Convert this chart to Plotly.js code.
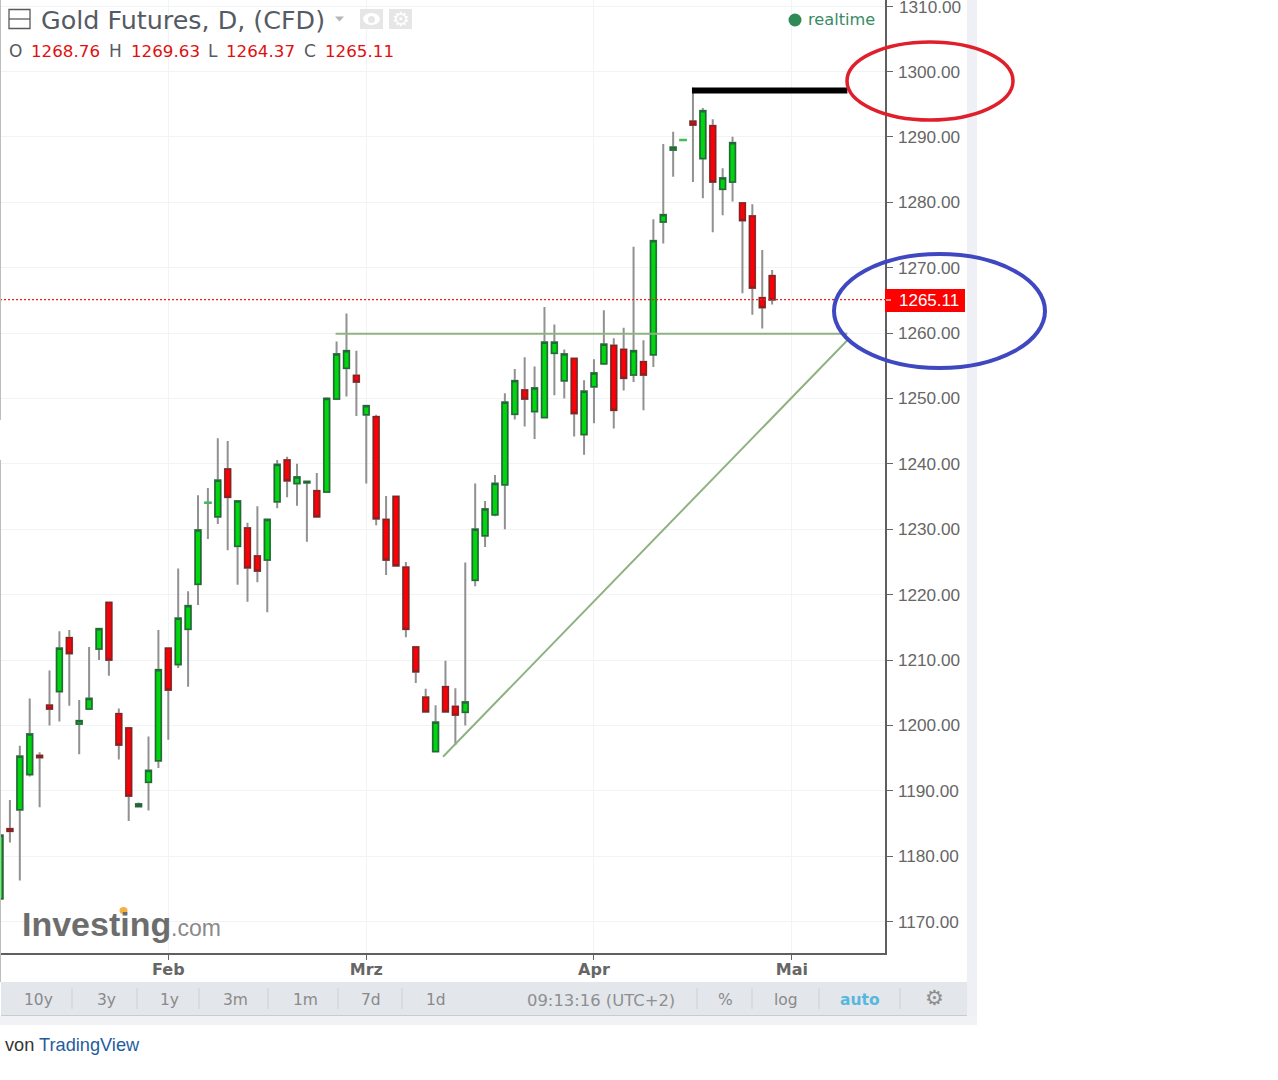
<!DOCTYPE html>
<html>
<head>
<meta charset="utf-8">
<title>Gold Futures</title>
<script src="https://cdn.plot.ly/plotly-3.0.1.min.js"></script>
<style>
  body { margin: 0; background: #fff; }
</style>
</head>
<body>
<div id="graph"></div>
<script>
// values, one entry per trading day
var opens = [1173.5,1184.2,1187.1,1192.5,1195.4,1203.1,1205.2,1213.4,1200.2,1202.5,
  1211.7,1218.8,1201.8,1199.6,1187.6,1191.3,1194.6,1211.8,1209.3,1214.7,
  1221.6,1234,1231.9,1239.2,1227.4,1230.2,1225.9,1225.3,1234.2,1240.6,
  1237,1237.1,1235.9,1235.7,1249.9,1254.6,1253.5,1247.5,1247.2,1231.5,
  1235,1224.2,1212,1204.3,1196,1205.9,1202.9,1202,1222.2,1229,
  1232.2,1236.8,1247.6,1251.3,1248,1247.1,1256.9,1252.7,1256.1,1244.5,
  1251.8,1255.3,1258.1,1257.5,1253.6,1255.6,1256.7,1277,1288,1289.5,
  1292.4,1286.7,1291.7,1282,1283.1,1279.9,1277.9,1265.4,1268.76];
var highs = [1183.2,1188.6,1196.9,1204.1,1195.9,1208.4,1214.4,1214.6,1203.9,1212,
  1214.8,1218.8,1202.6,1199.6,1188.2,1198.3,1214.6,1211.8,1224,1220.5,
  1235.2,1236.3,1243.9,1243.5,1234.3,1231,1233.5,1231.5,1240.6,1241.1,
  1240,1237.3,1238.6,1250.2,1258.7,1263,1257.3,1248.9,1247.5,1235.1,
  1235,1225,1212,1205.6,1203.1,1209.9,1205.7,1224.9,1237,1234.3,
  1238.3,1250.8,1254.5,1256.3,1254.9,1264,1261.3,1257.5,1256.2,1252.8,
  1256,1263.5,1259.2,1260.8,1273.2,1258.9,1277.4,1288.9,1290.8,1289.5,
  1297.5,1294.4,1292.7,1285.2,1290,1279.9,1279.7,1272.7,1269.63];
var lows = [1173,1182.1,1176.3,1192.2,1187.5,1200,1200.6,1203,1195.6,1202.5,
  1210,1207.6,1194.8,1185.4,1187.6,1187,1193.5,1197.8,1208.8,1205.9,
  1218.4,1228.5,1230.8,1226.8,1221.5,1218.9,1221.9,1217.3,1233.2,1234.9,
  1233.6,1228.1,1231.9,1235.7,1249.9,1250.3,1247.3,1237,1230.6,1223,
  1224.4,1213.5,1206.5,1202.1,1196,1202.1,1197,1200,1221.3,1227.3,
  1232,1230,1246.8,1245.7,1243.8,1247.1,1250.5,1250,1244.2,1241.4,
  1246.2,1255.3,1245.4,1251.2,1252.5,1248.2,1254.8,1273.7,1283.9,1289.5,
  1283.1,1280.6,1275.4,1278,1280.1,1266.1,1262.8,1260.7,1264.37];
var closes = [1183.2,1183.8,1195.3,1198.7,1195.1,1202.5,1211.8,1211,1200.7,1204.1,
  1214.8,1210,1197,1189.2,1188,1193.1,1208.5,1205.4,1216.4,1218.3,
  1229.9,1234.1,1237.5,1234.9,1234.3,1224.1,1223.6,1231.5,1239.9,1237.4,
  1238,1237.3,1231.9,1250,1256.8,1257.3,1252.5,1248.9,1231.6,1225.3,
  1224.4,1214.7,1208.2,1202.1,1200.5,1202.1,1201.6,1203.6,1230,1233.1,
  1237,1249.4,1252.7,1249.9,1251.6,1258.6,1258.6,1256.8,1247.7,1251.1,
  1253.9,1258.3,1248.2,1253.1,1257.3,1253.6,1274.1,1278.1,1288.4,1289.55,
  1291.8,1294,1283.1,1283.7,1289.1,1277.2,1266.9,1263.9,1265.11];
var brightDays = [21, 69];   // thin light green dashes

var tickDays = [17, 37, 60, 80];
var tickMonths = ['Feb', 'Mrz', 'Apr', 'Mai'];
var priceTicks = [1170,1180,1190,1200,1210,1220,1230,1240,1250,1260,1270,1280,1290,1300,1310];
var lastPrice = 1265.11;

var blackX = [69.9, 85.6],  blackY = [1297.1, 1297.1];
var flatX  = [33.9, 85.6],  flatY  = [1259.9, 1259.9];
var riseX  = [44.75, 85.6], riseY  = [1195.2, 1258.9];
var lastX  = [0, 89.4],     lastY  = [lastPrice, lastPrice];

var rangeButtons = [['10y',38],['3y',106],['1y',169],['3m',235],['1m',305],['7d',371],['1d',436]];
var toolButtons = [['%',725],['log',786]];
var dividers = [72,137,199,268,338,402,697,752,819,900];

// plot box in pixels
var L = 1, W = 884, H = 953;
function fx(p) { return (p - L) / W; }
function fy(p) { return (H - p) / H; }

function note(text, x, y, size, color, family, anchor) {
  return {text: text, x: fx(x), y: fy(y), xref: 'paper', yref: 'paper', showarrow: false,
    xanchor: anchor || 'left', yanchor: 'middle', borderpad: 0,
    font: {size: size, color: color, family: family || 'DejaVu Sans'}};
}
function box(type, x0, y0, x1, y1, fill, line, lw, layer) {
  return {type: type, xref: 'paper', yref: 'paper', x0: fx(x0), x1: fx(x1), y0: fy(y0), y1: fy(y1),
    fillcolor: fill || 'rgba(0,0,0,0)', line: {color: line || 'rgba(0,0,0,0)', width: lw || 0}, layer: layer || 'above'};
}

var days = opens.map(function(o, i) { return i; });
var bodyDays = days.filter(function(d) { return brightDays.indexOf(d) < 0; });
function pick(list, which) { return which.map(function(d) { return list[d]; }); }
var bodyHi = days.map(function(d) { return Math.max(opens[d], closes[d]); });
var bodyLo = days.map(function(d) { return Math.min(opens[d], closes[d]); });

var wicks = {
  type: 'candlestick', x: days, open: opens, high: highs, low: lows, close: closes,
  whiskerwidth: 0, hoverinfo: 'skip',
  increasing: {line: {color: '#919191', width: 2}, fillcolor: 'rgba(0,0,0,0)'},
  decreasing: {line: {color: '#919191', width: 2}, fillcolor: 'rgba(0,0,0,0)'}
};
// second pass: bodies only, so the wick stays behind them
var bodies = {
  type: 'candlestick', x: bodyDays, open: pick(opens, bodyDays), close: pick(closes, bodyDays),
  high: pick(bodyHi, bodyDays), low: pick(bodyLo, bodyDays),
  whiskerwidth: 0, hoverinfo: 'skip',
  increasing: {line: {color: '#1f6b35', width: 1.5}, fillcolor: '#00d60e'},
  decreasing: {line: {color: '#8a2020', width: 1.5}, fillcolor: '#fb0006'}
};
var dashes = {
  type: 'candlestick', x: brightDays, open: pick(opens, brightDays), close: pick(closes, brightDays),
  high: pick(bodyHi, brightDays), low: pick(bodyLo, brightDays),
  whiskerwidth: 0, hoverinfo: 'skip',
  increasing: {line: {color: '#2fc84a', width: 1.5}, fillcolor: '#2fc84a'},
  decreasing: {line: {color: '#2fc84a', width: 1.5}, fillcolor: '#2fc84a'}
};
function line(x, y, color, width, dash) {
  return {type: 'scatter', mode: 'lines', x: x, y: y, hoverinfo: 'skip',
    line: {color: color, width: width, dash: dash || 'solid'}};
}

var shapes = [
  box('rect', 967, 0, 977, 1025, '#eff0f5', null, 0, 'below'),
  box('rect', 0, 1016, 977, 1025, '#f1f2f6', null, 0, 'below'),
  box('rect', 1, 982, 967, 1016, '#e3e6eb', null, 0, 'below'),
  box('rect', 1, 1015, 967, 1016, '#c8ccd2', null, 0, 'below'),
  box('rect', 0, 0, 1, 420, '#bdbdbd', null, 0, 'below'),
  box('rect', 0, 460, 1, 982, '#bdbdbd', null, 0, 'below'),
  // price tag, header icons
  box('rect', 885, 289, 965, 312, '#ff0000'),
  box('line', 886, 300, 891, 300, null, '#ffffff', 1.2),
  box('rect', 9, 9.5, 30, 28.5, '#ffffff', '#5a5a5a', 1.3),
  box('line', 9, 19, 30, 19, null, '#5a5a5a', 1.3),
  box('rect', 360, 9, 383, 29, '#e6e6e6'),
  box('rect', 389, 9, 412, 29, '#e6e6e6'),
  box('circle', 363, 13, 380, 25, '#ffffff'),
  box('circle', 368, 16, 375, 23, '#e6e6e6'),
  {type: 'path', xref: 'paper', yref: 'paper', layer: 'above', fillcolor: '#b5b5b5', line: {width: 0},
    path: 'M ' + fx(335) + ' ' + fy(16.5) + ' L ' + fx(344) + ' ' + fy(16.5) + ' L ' + fx(339.5) + ' ' + fy(21.5) + ' Z'},
  box('circle', 788.5, 13.5, 801.5, 26.5, '#2e8b57'),
  box('circle', 119.5, 907, 127.5, 914, '#f5b041'),
  // hand drawn ellipses
  box('circle', 847, 42, 1013, 120, null, '#e01f2c', 3.5),
  box('circle', 834, 254, 1045, 368, null, '#3f48c0', 4)
];
dividers.forEach(function(d) {
  shapes.push(box('line', d, 988, d, 1009, null, '#cdd0d6', 1));
});

var annotations = [
  note('Gold Futures, D, (CFD)', 40, 20, 25.4, '#555b62'),
  note('O', 8, 51, 17, '#555b62'), note('1268.76', 30, 51, 16.7, '#e01010'),
  note('H', 108, 51, 17, '#555b62'), note('1269.63', 130, 51, 16.7, '#e01010'),
  note('L', 207, 51, 17, '#555b62'), note('1264.37', 225, 51, 16.7, '#e01010'),
  note('C', 303, 51, 17, '#555b62'), note('1265.11', 324, 51, 16.7, '#e01010'),
  note('\u2699', 400.5, 19, 20, '#ffffff', 'DejaVu Sans', 'center'),
  note('realtime', 807, 20, 16.2, '#3b8a66'),
  note('<b>Investing</b>', 21, 924, 34, '#6d6d6d', 'Liberation Sans'),
  note('.com', 170, 928, 23, '#8a8a8a', 'Liberation Sans'),
  note('1310.00', 898, 7, 17.2, '#666666', 'Liberation Sans'),
  note('1265.11', 928.5, 301, 17, '#ffffff', 'Liberation Sans', 'center'),
  note('<b>auto</b>', 860, 1000, 15.5, '#58b7dc', 'DejaVu Sans', 'center'),
  note('09:13:16 (UTC+2)', 601, 1000, 16.4, '#8f8f8f', 'DejaVu Sans', 'center'),
  note('\u2699', 934, 998, 21, '#8d8d8d', 'DejaVu Sans', 'center'),
  note('von <span style="color:#1f5c9e">TradingView</span>', 3.5, 1045, 18.2, '#333333', 'Liberation Sans')
];
rangeButtons.concat(toolButtons).forEach(function(b) {
  annotations.push(note(b[0], b[1], 1000, 15.5, '#8a8a8a', 'DejaVu Sans', 'center'));
});

var layout = {
  width: 1278, height: 1080, autosize: false,
  margin: {l: L, r: 1278 - L - W, t: 0, b: 1080 - H, pad: 0},
  paper_bgcolor: '#ffffff', plot_bgcolor: '#ffffff',
  showlegend: false, boxmode: 'overlay', boxgap: 0.2,
  xaxis: {
    type: 'linear', range: [0.1, 89.4], rangeslider: {visible: false},
    tickmode: 'array', tickvals: tickDays, ticktext: tickMonths.map(function(m) { return '<b>' + m + '</b>'; }),
    tickfont: {family: 'DejaVu Sans', size: 16, color: '#666666'},
    ticks: 'outside', ticklen: 5, tickcolor: '#666666', tickwidth: 1, ticklabelstandoff: -4,
    showgrid: true, gridcolor: '#f1f3f5', gridwidth: 1, zeroline: false,
    showline: true, linecolor: '#5f5f5f', linewidth: 1.5
  },
  yaxis: {
    side: 'right', range: [1165.2, 1310.93],
    tickmode: 'array', tickvals: priceTicks, ticktext: priceTicks.map(function(p) { return p.toFixed(2); }),
    tickfont: {family: 'Liberation Sans', size: 17.2, color: '#666666'},
    ticks: 'outside', ticklen: 6, tickcolor: '#666666', tickwidth: 1, ticklabelstandoff: 2,
    showgrid: true, gridcolor: '#f1f3f5', gridwidth: 1, zeroline: false,
    showline: true, linecolor: '#5f5f5f', linewidth: 1.5
  },
  shapes: shapes,
  annotations: annotations
};

Plotly.newPlot('graph', [
  wicks, bodies, dashes,
  line(lastX, lastY, '#ff1a1a', 1.3, '2px,2px'),
  line(flatX, flatY, '#8fb283', 2),
  line(riseX, riseY, '#8fb283', 2),
  line(blackX, blackY, '#000000', 6)
], layout, {displayModeBar: false, responsive: false, staticPlot: true});
</script>
</body>
</html>
